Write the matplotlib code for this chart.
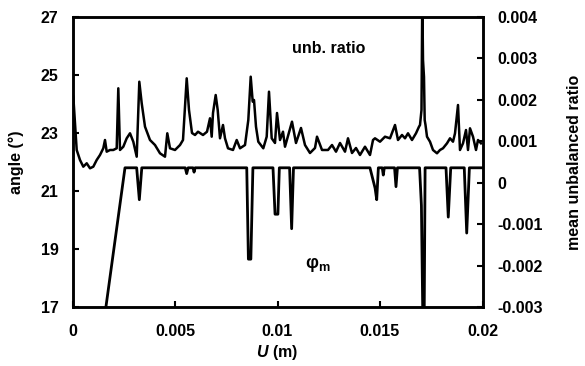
import numpy as np
import matplotlib
matplotlib.use("Agg")
import matplotlib.pyplot as plt

plt.rcParams.update({
    "font.family": "Liberation Sans",
    "font.weight": "bold",
    "mathtext.fontset": "custom",
    "mathtext.rm": "Liberation Sans:bold",
    "mathtext.it": "Liberation Sans:italic:bold",
    "mathtext.bf": "Liberation Sans:bold",
})

# ---- mean unbalanced ratio (right axis) ----
ratio_x = [0.0, 0.000039, 0.000122, 0.000205, 0.000366, 0.000527, 0.000693, 0.000854,
           0.001015, 0.00118, 0.001341, 0.001502, 0.001585, 0.001668, 0.001829, 0.00199,
           0.002156, 0.002234, 0.002317, 0.002478, 0.002644, 0.002805, 0.002966, 0.003132,
           0.003259, 0.003376, 0.003537, 0.00378, 0.004024, 0.004268, 0.004512, 0.004624,
           0.004756, 0.005, 0.005244, 0.00539, 0.005571, 0.005683, 0.005829, 0.005976,
           0.006122, 0.006366, 0.006561, 0.006707, 0.00679, 0.006854, 0.006985, 0.007083,
           0.007195, 0.007341, 0.007439, 0.007585, 0.007829, 0.00801, 0.008171, 0.008415,
           0.008576, 0.008693, 0.00879, 0.008854, 0.008951, 0.009063, 0.009307, 0.009473,
           0.009585, 0.009717, 0.009878, 0.009976, 0.010122, 0.010268, 0.010366, 0.010707,
           0.010902, 0.011146, 0.011341, 0.011585, 0.011829, 0.011927, 0.012171, 0.012463,
           0.012659, 0.012854, 0.013049, 0.013293, 0.013439, 0.013634, 0.013829, 0.014024,
           0.014268, 0.014512, 0.014659, 0.014756, 0.015, 0.015244, 0.015488, 0.015732,
           0.015878, 0.016073, 0.01622, 0.016366, 0.016561, 0.016756, 0.016902, 0.016951,
           0.017024, 0.017063, 0.017098, 0.017146, 0.01718, 0.01722, 0.017293, 0.017439,
           0.017585, 0.01778, 0.017927, 0.018073, 0.018268, 0.018415, 0.018561, 0.018659,
           0.018805, 0.018902, 0.019049, 0.019195, 0.019293, 0.01939, 0.019537, 0.019683,
           0.01978, 0.019927]
ratio_y = [0.00215, 0.00208, 0.001441, 0.00079, 0.000548, 0.000387, 0.000469, 0.000348,
           0.000387, 0.000548, 0.000669, 0.000831, 0.001031, 0.000749, 0.00079, 0.00079,
           0.000831, 0.002279, 0.00079, 0.000869, 0.001072, 0.001193, 0.00099, 0.000628,
           0.002438, 0.001917, 0.001352, 0.001031, 0.00091, 0.00071, 0.000628, 0.001193,
           0.000831, 0.00079, 0.00091, 0.001031, 0.00252, 0.001755, 0.0012, 0.001152,
           0.001231, 0.001152, 0.001231, 0.001555, 0.001111, 0.001683, 0.002117, 0.001755,
           0.001072, 0.001393, 0.001072, 0.000831, 0.00079, 0.001031, 0.000831, 0.00091,
           0.001514, 0.002559, 0.001956, 0.001997, 0.001352, 0.00099, 0.000831, 0.001111,
           0.002197, 0.001072, 0.000959, 0.001683, 0.001031, 0.001231, 0.000869, 0.001473,
           0.000959, 0.001321, 0.00091, 0.000717, 0.000838, 0.001111, 0.00079, 0.00079,
           0.00091, 0.000749, 0.000959, 0.000749, 0.001072, 0.000717, 0.000838, 0.000669,
           0.000869, 0.000669, 0.001031, 0.001072, 0.00099, 0.001111, 0.001072, 0.001393,
           0.001031, 0.001152, 0.001072, 0.001193, 0.001031, 0.001193, 0.001352, 0.001393,
           0.001755, 0.0045, 0.002962, 0.002552, 0.001514, 0.001393, 0.001111, 0.00099,
           0.00079, 0.00071, 0.00079, 0.000831, 0.000951, 0.001072, 0.00099, 0.001193,
           0.001876, 0.00079, 0.000951, 0.001272, 0.00079, 0.001313, 0.001111, 0.00079,
           0.001031, 0.000951]

# ---- phi_m angle (left axis) ----
phi_x = [0.00155, 0.00163, 0.00256, 0.00313, 0.00326, 0.00338, 0.00550, 0.00557, 0.00564,
         0.00588, 0.00593, 0.00598, 0.00850, 0.00858, 0.00870, 0.00880, 0.00978, 0.00988,
         0.01002, 0.01009, 0.01059, 0.01069, 0.01078, 0.01451, 0.01476, 0.01484, 0.01492,
         0.01511, 0.01516, 0.01521, 0.01571, 0.01578, 0.01585, 0.01693, 0.01702, 0.01710,
         0.01715, 0.01720, 0.01822, 0.01833, 0.01845, 0.01911, 0.01923, 0.01936, 0.02]
phi_y = [16.6, 17.0, 21.8, 21.8, 20.7, 21.8, 21.8, 21.6, 21.8,
         21.8, 21.65, 21.8, 21.8, 18.65, 18.65, 21.8, 21.8, 20.2,
         20.2, 21.8, 21.8, 19.7, 21.8, 21.8, 21.1, 20.7, 21.8,
         21.8, 21.55, 21.8, 21.8, 21.15, 21.8, 21.8, 20.5, 16.0,
         16.0, 21.8, 21.8, 20.1, 21.8, 21.8, 19.55, 21.8, 21.8]

x_ticks = [0, 0.005, 0.01, 0.015, 0.02]
x_labels = ["0", "0.005", "0.01", "0.015", "0.02"]
angle_ticks = [17, 19, 21, 23, 25, 27]
ratio_ticks = [-0.003, -0.002, -0.001, 0, 0.001, 0.002, 0.003, 0.004]
ratio_labels = ["-0.003", "-0.002", "-0.001", "0", "0.001", "0.002", "0.003", "0.004"]

fig = plt.figure(figsize=(5.85, 3.66), dpi=100)
ax = fig.add_axes([72.5/585, 1-307/366, 410/585, 290/366])
ax2 = ax.twinx()

ax.plot(phi_x, phi_y, color="black", lw=2.0)
ax2.plot(ratio_x, ratio_y, color="black", lw=1.8)

ax.set_xlim(0, 0.02)
ax.set_ylim(17, 27)
ax2.set_ylim(-0.003, 0.004)

ax.set_xticks(x_ticks)
ax.set_xticklabels(x_labels)
ax.set_yticks(angle_ticks)
ax2.set_yticks(ratio_ticks)
ax2.set_yticklabels(ratio_labels)

for a in (ax, ax2):
    for s in a.spines.values():
        s.set_linewidth(1.8)
    a.tick_params(direction="in", length=4, width=1.5, labelsize=11.5)
ax.tick_params(axis="y", pad=10)
ax.tick_params(axis="x", pad=12)
ax2.tick_params(axis="y", pad=11)

ax.set_ylabel("angle (°)", fontsize=11.5, fontweight="bold", labelpad=12)
ax2.set_ylabel("mean unbalanced ratio", fontsize=11.5, fontweight="bold", labelpad=17)
ax.set_xlabel("$U$ (m)", fontsize=11.5, fontweight="bold", labelpad=3)

ax.text(0.01251, 25.9, "unb. ratio", fontsize=11.5, fontweight="bold",
        ha="center", va="center")
ax.text(0.01135, 18.45, r"φ$_\mathregular{m}$", fontsize=13, fontweight="bold",
        ha="left", va="center")

fig.savefig("out.png", dpi=100)
